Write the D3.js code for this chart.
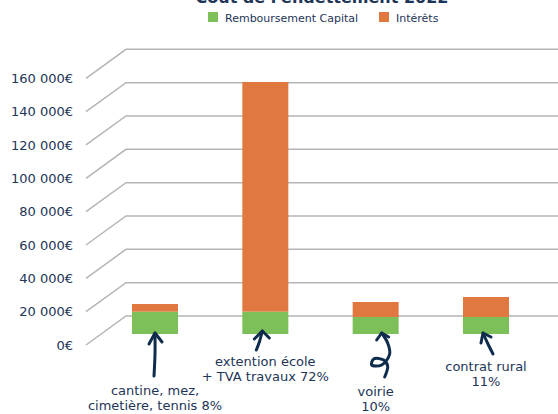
<!DOCTYPE html>
<html>
<head>
<meta charset="utf-8">
<script src="https://cdn.jsdelivr.net/npm/d3@7"></script>
<style>
  body { margin: 0; background: #fff; }
  svg { display: block; font-family: "DejaVu Sans", sans-serif; }
</style>
</head>
<body>
<div id="chart"></div>
<script>
// data
var categories = ["cantine", "extention", "voirie", "contrat"];
var labels = [
  ["cantine, mez,", "cimetière, tennis 8%"],
  ["extention école", "+ TVA travaux 72%"],
  ["voirie", "10%"],
  ["contrat rural", "11%"]
];
var capital = [13400, 13400, 10200, 10200];
var interets = [4600, 137800, 9000, 12000];
var seriesNames = ["Remboursement Capital", "Intérêts"];
var yTicks = [0, 20000, 40000, 60000, 80000, 100000, 120000, 140000, 160000];

var width = 558, height = 414;
var green = "#7dc05a", orange = "#e07840", navy = "#1d3557", ink = "#0f2c4c", grid = "#b5b5b5";

// 3d wall offset
var wallDx = 40, wallDy = 29, barDepth = 11 / 29;

var svg = d3.select("#chart").append("svg")
    .attr("width", width)
    .attr("height", height);

var y = d3.scaleLinear().domain([0, 160000]).range([345, 78.3]);
var x = d3.scalePoint().domain(categories).range([155, 486]);
var barW = 46;

// title (mostly cut off at top)
svg.append("text")
    .attr("x", 322).attr("y", 3)
    .attr("text-anchor", "middle")
    .style("font-size", "16px").style("font-weight", "bold")
    .style("fill", navy)
    .text("Coût de l'endettement 2022");

// legend
var legend = svg.append("g");
var legX = [208, 379];
seriesNames.forEach(function(name, i) {
  legend.append("rect")
    .attr("x", legX[i]).attr("y", 12).attr("width", 10).attr("height", 10)
    .style("fill", i == 0 ? green : orange);
  legend.append("text")
    .attr("x", legX[i] + 17).attr("y", 21.5)
    .style("font-size", "11px").style("fill", navy)
    .text(name);
});

// grid: diagonal side wall + back wall
var gridG = svg.append("g");
yTicks.forEach(function(t) {
  gridG.append("path")
    .attr("d", "M86," + y(t) + "L" + (86 + wallDx) + "," + (y(t) - wallDy) + "L" + width + "," + (y(t) - wallDy))
    .style("fill", "none").style("stroke", grid).style("stroke-width", 1.5);
});

// y axis labels
var fmt = function(v) { return d3.format(",")(v).replace(/,/g, " ") + "€"; };
svg.append("g").selectAll("text").data(yTicks).enter()
  .append("text")
    .attr("x", 73)
    .attr("y", function(d) { return y(d); })
    .attr("dy", "0.35em")
    .attr("text-anchor", "end")
    .style("font-size", "13px").style("fill", navy)
    .text(fmt);

// stacked bars (sitting a little inside the floor)
var stackData = categories.map(function(c, i) { return { cat: c, capital: capital[i], interets: interets[i] }; });
var stack = d3.stack().keys(["capital", "interets"])(stackData);
var bx = barDepth * wallDx, by = barDepth * wallDy;

svg.append("g").selectAll("g").data(stack).enter()
  .append("g")
    .style("fill", function(d, i) { return i == 0 ? green : orange; })
  .selectAll("rect").data(function(d) { return d; }).enter()
  .append("rect")
    .attr("x", function(d) { return x(d.data.cat) - barW / 2; })
    .attr("y", function(d) { return y(d[1]) - by; })
    .attr("width", barW)
    .attr("height", function(d) { return y(d[0]) - y(d[1]); });

// hand drawn arrows, relative to each bar centre
var arrows = [
  { shaft: [[-1, 42], [0, 20], [0, -1]], wing: [[-6, 10], [0, -1], [7, 8]] },
  { shaft: [[-9, 16], [-6, 8], [-3, -3]], wing: [[-11, 5], [-3, -3], [4, 4]] },
  { shaft: [[9, 43], [12, 32], [8, 26], [-2, 25], [-4, 31], [6, 31], [14, 20], [12, 9], [6, -1]], wing: [[1, 6], [6, -1], [13, 3]] },
  { shaft: [[7, 20], [2, 10], [-3, -1]], wing: [[-5, 9], [-3, -1], [5, 3]] }
];
var line = d3.line().x(function(d) { return d[0]; }).y(function(d) { return d[1]; });
var base = y(0) - by;
arrows.forEach(function(a, i) {
  var cx = x(categories[i]);
  var shift = function(p) { return [cx + p[0], base + p[1]]; };
  svg.append("path")
    .attr("d", line.curve(d3.curveCatmullRom)(a.shaft.map(shift)))
    .style("fill", "none").style("stroke", ink).style("stroke-width", 3)
    .style("stroke-linecap", "round").style("stroke-linejoin", "round");
  svg.append("path")
    .attr("d", line.curve(d3.curveLinear)(a.wing.map(shift)))
    .style("fill", "none").style("stroke", ink).style("stroke-width", 3)
    .style("stroke-linecap", "round").style("stroke-linejoin", "round");
});

// category labels under the arrows
var labelY = [390, 361, 391, 366];
labels.forEach(function(lines, i) {
  var t = svg.append("text")
    .attr("text-anchor", "middle")
    .style("font-size", "13px").style("fill", navy);
  lines.forEach(function(s, j) {
    t.append("tspan")
      .attr("x", x(categories[i]))
      .attr("y", labelY[i] + j * 15.5)
      .attr("dy", "0.35em")
      .text(s);
  });
});
</script>
</body>
</html>
